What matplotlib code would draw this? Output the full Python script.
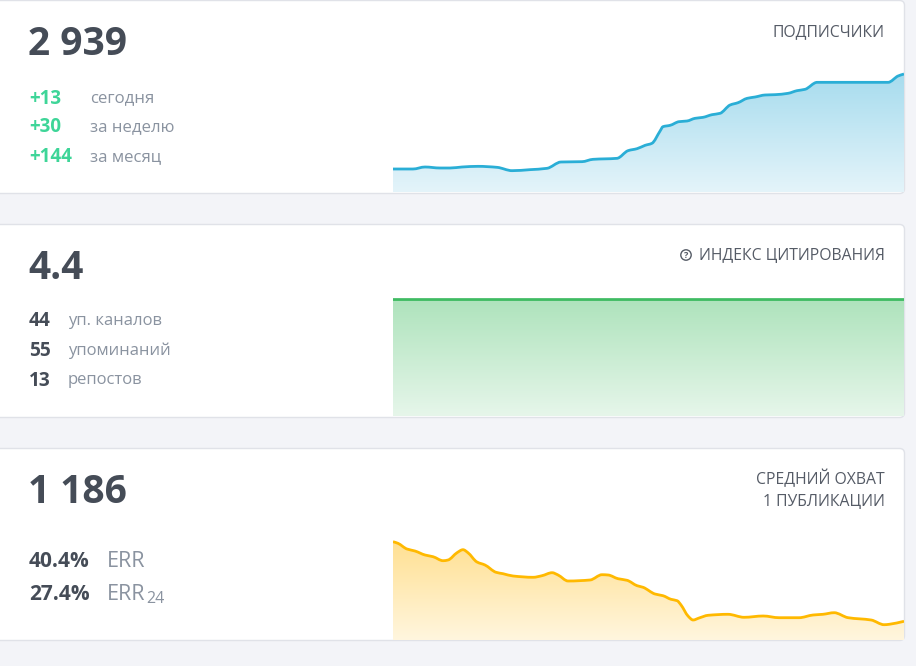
import matplotlib
matplotlib.use("Agg")
import matplotlib.pyplot as plt
import numpy as np
from matplotlib.colors import LinearSegmentedColormap
from matplotlib.patches import Circle, FancyBboxPatch, PathPatch
from matplotlib.path import Path

W, H = 916, 666
FONT = "Open Sans"

# days from the start of the month shown
sub_days = [0, 1.17, 1.88, 2.76, 3.35, 4.05, 4.99, 6.11, 6.99, 8.04, 9.04, 9.86, 11.1, 11.74,
            13.15, 13.8, 14.33, 14.8, 15.2, 15.68, 15.85, 16.27, 16.79, 17.26, 17.73, 18.2,
            18.73, 19.2, 19.79, 20.26, 20.79, 21.26, 21.84, 22.43, 23.19, 23.72, 24.19, 24.9,
            29.07, 29.65, 30]
subscribers = [2796.5, 2796.5, 2799.5, 2798, 2798, 2799.5, 2800.5, 2799, 2794, 2795.5, 2797.5,
               2807, 2807.5, 2811, 2812.5, 2824, 2827, 2832, 2835, 2853.5, 2860, 2862, 2867.5,
               2868.5, 2872.5, 2874, 2878, 2880, 2892.5, 2896, 2902.5, 2904.5, 2907.5, 2908,
               2910, 2914, 2916, 2926.5, 2926.5, 2936, 2939]

index_days = [0, 30]
citation_index = [4.4, 4.4]

reach_days = [0, 0.29, 0.82, 1.29, 1.88, 2.35, 2.94, 3.23, 3.76, 4.11, 4.4, 4.93, 5.4, 6.05,
              6.46, 7.05, 8.22, 8.75, 9.34, 9.69, 10.28, 11.57, 12.27, 12.63, 13.21, 13.74,
              14.33, 14.68, 15.38, 15.85, 16.32, 16.68, 16.91, 17.32, 17.62, 17.97, 18.5,
              19.67, 20.61, 21.73, 22.67, 23.84, 24.66, 25.24, 25.9, 26.72, 28.07, 28.83,
              29.13, 30]
reach = [1979, 1963, 1906, 1886, 1846, 1829, 1789, 1796, 1869, 1899, 1869, 1776, 1746, 1673,
         1659, 1636, 1623, 1639, 1669, 1646, 1586, 1596, 1649, 1646, 1609, 1593, 1539, 1523,
         1456, 1439, 1403, 1389, 1346, 1236, 1196, 1216, 1243, 1253, 1223, 1236, 1219, 1219,
         1246, 1253, 1269, 1219, 1196, 1149, 1153, 1183]

sub_labels = ["+13", "+30", "+144"]
sub_names = ["сегодня", "за неделю", "за месяц"]
index_labels = ["44", "55", "13"]
index_names = ["уп. каналов", "упоминаний", "репостов"]
err_labels = ["40.4%", "27.4%"]

plt.rcParams["font.family"] = [FONT, "DejaVu Sans"]
DARK = "#454c57"
GREY = "#8a93a0"
MINT = "#3ed598"
TITLE = "#555b66"

fig = plt.figure(figsize=(W / 100, H / 100), dpi=100, facecolor="#f3f4f8")
bg = fig.add_axes([0, 0, 1, 1])
bg.set_xlim(0, W)
bg.set_ylim(H, 0)
bg.axis("off")

# cards
for top, bottom in [(0, 193), (224, 417), (448, 640)]:
    bg.add_patch(FancyBboxPatch((-20, top + 0.5), 924.5, bottom - top,
                                boxstyle="round,pad=0,rounding_size=5",
                                fc="white", ec="#e0e2e8", lw=1))


def smooth_path(days, values):
    # monotone bezier through the points, the site draws its lines rounded
    x = np.array(days, dtype=float)
    y = np.array(values, dtype=float)
    h = np.diff(x)
    s = np.diff(y) / h
    m = np.zeros(len(x))
    m[0], m[-1] = s[0], s[-1]
    for i in range(1, len(x) - 1):
        if s[i - 1] * s[i] > 0:
            m[i] = 2 * s[i - 1] * s[i] / (s[i - 1] + s[i])
    verts = [(x[0], y[0])]
    codes = [Path.MOVETO]
    for i in range(len(x) - 1):
        verts += [(x[i] + h[i] / 3, y[i] + m[i] * h[i] / 3),
                  (x[i + 1] - h[i] / 3, y[i + 1] - m[i + 1] * h[i] / 3),
                  (x[i + 1], y[i + 1])]
        codes += [Path.CURVE4] * 3
    return Path(verts, codes)


def area_chart(x0, x1, y_top, y_base, days, values, ylim, line, c_top, c_bottom):
    ax = fig.add_axes([x0 / W, 1 - y_base / H, (x1 - x0) / W, (y_base - y_top) / H])
    ax.axis("off")
    ax.patch.set_alpha(0)
    poly = ax.fill_between(days, values, ylim[0], color="none", lw=0)
    cmap = LinearSegmentedColormap.from_list("grad", [c_bottom, c_top])
    img = ax.imshow(np.linspace(1, 0, 128)[:, None], cmap=cmap, aspect="auto",
                    extent=(0, 30, ylim[0], max(values)), zorder=1)
    img.set_clip_path(poly.get_paths()[0], transform=ax.transData)
    ax.add_patch(PathPatch(smooth_path(days, values), fc="none", ec=line, lw=2.0,
                           joinstyle="round", zorder=2))
    ax.set_xlim(0, 30)
    ax.set_ylim(*ylim)
    return ax


area_chart(393, 904, 60, 192, sub_days, subscribers, (2762, 2960), "#2aaed6", "#a7dcee", "#e4f4fa")
area_chart(393, 904, 290, 416, index_days, citation_index, (0, 4.76), "#3fbb62", "#aee3bc", "#e6f6ea")
area_chart(393, 904, 530, 640, reach_days, reach, (996, 2096), "#ffb900", "#ffe092", "#fff6de")

# headline numbers
for y, s in [(40, "2 939"), (264, "4.4"), (488, "1 186")]:
    bg.text(28, y, s, fontsize=28, fontweight="bold", color=DARK, va="center_baseline", ha="left")


# right hand titles
def title(y, s):
    bg.text(885, y, s, fontsize=11.3, color=TITLE, va="center_baseline", ha="right")


title(30, "ПОДПИСЧИКИ")
title(254, "ИНДЕКС ЦИТИРОВАНИЯ")
title(477, "СРЕДНИЙ ОХВАТ")
title(500, "1 ПУБЛИКАЦИИ")
bg.add_patch(Circle((686, 255), 5.2, fc="none", ec=TITLE, lw=1))
bg.text(686, 255, "?", fontsize=6.5, fontweight="bold", color=TITLE, ha="center", va="center_baseline")

# stat rows
for y, a, b in zip([96, 125, 155], sub_labels, sub_names):
    bg.text(29, y, a, fontsize=13.5, fontweight="bold", color=MINT, va="center_baseline")
    bg.text(90, y, b, fontsize=12.1, color=GREY, va="center_baseline")

for y, a, b in zip([319, 349, 378], index_labels, index_names):
    bg.text(29, y, a, fontsize=13.8, fontweight="bold", color=DARK, va="center_baseline")
    bg.text(68, y, b, fontsize=12.0, color=GREY, va="center_baseline")

for y, a in zip([559, 592], err_labels):
    bg.text(29, y, a, fontsize=15, fontweight="bold", color=DARK, va="center_baseline")
    bg.text(107, y, "ERR", fontsize=15.5, color=GREY, va="center_baseline")
bg.text(146, 597, "24", fontsize=11.5, color=GREY, va="center_baseline")

fig.savefig("out.png", dpi=100, facecolor=fig.get_facecolor())
